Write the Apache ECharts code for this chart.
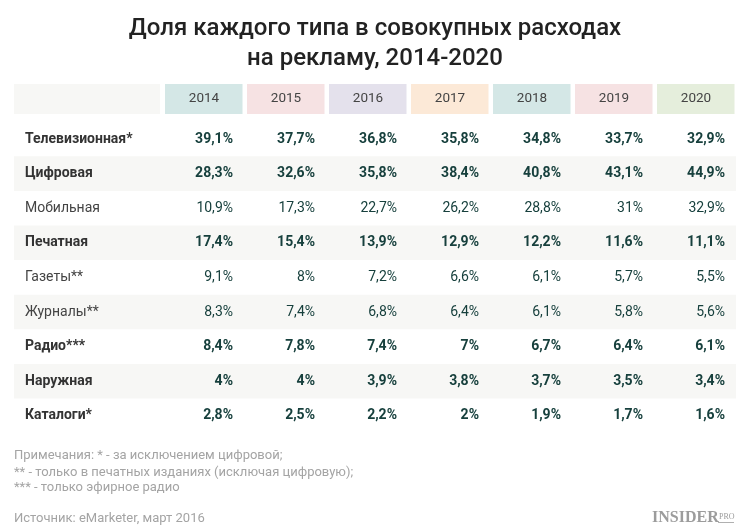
<!DOCTYPE html>
<html><head><meta charset="utf-8">
<script src="https://cdn.jsdelivr.net/npm/echarts@6/dist/echarts.min.js"></script>
<style>html,body{margin:0;padding:0;background:#fff}#c{width:750px;height:532px}</style>
</head><body><div id="c"></div>
<script>
const years = ['2014', '2015', '2016', '2017', '2018', '2019', '2020'];
const categories = ['Телевизионная*', 'Цифровая', 'Мобильная', 'Печатная', 'Газеты**', 'Журналы**', 'Радио***', 'Наружная', 'Каталоги*'];
const tv = [39.1, 37.7, 36.8, 35.8, 34.8, 33.7, 32.9];
const digital = [28.3, 32.6, 35.8, 38.4, 40.8, 43.1, 44.9];
const mobile = [10.9, 17.3, 22.7, 26.2, 28.8, 31, 32.9];
const printAds = [17.4, 15.4, 13.9, 12.9, 12.2, 11.6, 11.1];
const newspapers = [9.1, 8, 7.2, 6.6, 6.1, 5.7, 5.5];
const magazines = [8.3, 7.4, 6.8, 6.4, 6.1, 5.8, 5.6];
const radio = [8.4, 7.8, 7.4, 7, 6.7, 6.4, 6.1];
const outdoor = [4, 4, 3.9, 3.8, 3.7, 3.5, 3.4];
const catalogs = [2.8, 2.5, 2.2, 2, 1.9, 1.7, 1.6];
const titleText = 'Доля каждого типа в совокупных расходах\nна рекламу, 2014-2020';
const notes = ['Примечания: * - за исключением цифровой;', '** - только в печатных изданиях (исключая цифровую);', '*** - только эфирное радио'];
const sourceText = 'Источник: eMarketer, март 2016';

const rows = [tv, digital, mobile, printAds, newspapers, magazines, radio, outdoor, catalogs];
const boldRow = [true, true, false, true, false, false, true, true, true];
const headerColors = ['#d4e7e6', '#f6e2e3', '#e4e1ec', '#fce9d7', '#d4e7e6', '#f6e2e3', '#e5eedc'];
const FONT = 'Roboto, "Noto Sans", sans-serif';
const STRIPE = '#f7f7f5';
const fmt = v => String(v).replace('.', ',') + '%';

const cellData = [];
rows.forEach((arr, r) => arr.forEach((v, c) => cellData.push([c, r, v])));
const stripeData = categories.map((c, i) => [0, i]).filter(d => d[1] % 2 === 1);

function stripeItem(trim) {
  return function (params, api) {
    const cs = params.coordSys;
    const p = api.coord([0, api.value(1)]);
    const h = api.size([0, 1])[1];
    return { type: 'rect', shape: { x: cs.x, y: p[1] - h / 2, width: cs.width - trim, height: h }, style: { fill: STRIPE } };
  };
}

const chart = echarts.init(document.getElementById('c'), null, { renderer: 'canvas' });
chart.setOption({
  animation: false,
  backgroundColor: '#fff',
  title: {
    text: titleText, left: 'center', top: 9,
    textStyle: { fontFamily: FONT, fontSize: 24, fontWeight: 500, color: '#222', lineHeight: 30 }
  },
  grid: [
    { left: 14, top: 84, width: 149, height: 30 },
    { left: 163, top: 84, width: 574, height: 30 },
    { left: 14, top: 121.7, width: 149, height: 311.4 },
    { left: 163, top: 121.7, width: 574, height: 311.4 }
  ],
  xAxis: [
    { gridIndex: 0, type: 'category', data: [''], show: false },
    { gridIndex: 1, type: 'category', data: years, show: false },
    { gridIndex: 2, type: 'category', data: [''], show: false },
    { gridIndex: 3, type: 'category', data: years, show: false }
  ],
  yAxis: [
    { gridIndex: 0, type: 'category', data: [''], show: false },
    { gridIndex: 1, type: 'category', data: [''], show: false },
    { gridIndex: 2, type: 'category', data: categories, inverse: true, show: false },
    { gridIndex: 3, type: 'category', data: categories, inverse: true, show: false }
  ],
  graphic: [
    ...notes.map((t, i) => ({ type: 'text', left: 14, top: [449, 466, 481][i], style: { text: t, fill: '#a4a4a4', font: '13px ' + FONT } })),
    { type: 'text', left: 14, top: 512, style: { text: sourceText, fill: '#a4a4a4', font: '13px ' + FONT } },
    { type: 'text', left: 652, top: 510, style: { text: 'INSIDER', fill: '#9c9c9c', font: 'bold 16px "Liberation Serif", serif' } },
    { type: 'text', left: 719, top: 513, style: { text: 'PRO', fill: '#9c9c9c', font: '8px "Liberation Serif", serif' } },
    { type: 'rect', left: 718, top: 522, shape: { width: 16, height: 1 }, style: { fill: '#b0b0b0' } }
  ],
  series: [
    {
      type: 'custom', xAxisIndex: 0, yAxisIndex: 0, data: [[0, 0]],
      renderItem: function (params, api) {
        const cs = params.coordSys;
        return { type: 'rect', shape: { x: cs.x, y: cs.y, width: cs.width - 3, height: cs.height }, style: { fill: STRIPE } };
      }
    },
    {
      type: 'custom', xAxisIndex: 1, yAxisIndex: 1, data: years.map((y, i) => [i, 0]),
      renderItem: function (params, api) {
        const cs = params.coordSys;
        const i = api.value(0);
        const p = api.coord([i, 0]);
        const bw = api.size([1, 0])[0];
        return {
          type: 'group', children: [
            { type: 'rect', shape: { x: p[0] - bw / 2 + 2, y: cs.y, width: bw - 4.5, height: cs.height }, style: { fill: headerColors[i] } },
            { type: 'text', style: { x: p[0], y: cs.y + cs.height / 2, text: years[i], fill: '#444', font: '13.5px ' + FONT, align: 'center', verticalAlign: 'middle' } }
          ]
        };
      }
    },
    { type: 'custom', xAxisIndex: 2, yAxisIndex: 2, data: stripeData, renderItem: stripeItem(0), z: 1 },
    { type: 'custom', xAxisIndex: 3, yAxisIndex: 3, data: stripeData, renderItem: stripeItem(1), z: 1 },
    {
      type: 'custom', xAxisIndex: 2, yAxisIndex: 2, z: 3, data: categories.map((c, i) => [0, i]),
      renderItem: function (params, api) {
        const cs = params.coordSys;
        const r = api.value(1);
        const p = api.coord([0, r]);
        return { type: 'text', style: { x: cs.x + 11, y: p[1], text: categories[r], fill: boldRow[r] ? '#333' : '#444', font: (boldRow[r] ? 'bold ' : '') + '14px ' + FONT, align: 'left', verticalAlign: 'middle' } };
      }
    },
    {
      type: 'custom', xAxisIndex: 3, yAxisIndex: 3, z: 3, data: cellData,
      renderItem: function (params, api) {
        const c = api.value(0), r = api.value(1);
        const p = api.coord([c, r]);
        const bw = api.size([1, 1])[0];
        return { type: 'text', style: { x: p[0] + bw / 2 - 12, y: p[1], text: fmt(api.value(2)), fill: '#17403d', font: (boldRow[r] ? 'bold ' : '') + '14px ' + FONT, align: 'right', verticalAlign: 'middle' } };
      }
    }
  ]
});
</script>
</body></html>
